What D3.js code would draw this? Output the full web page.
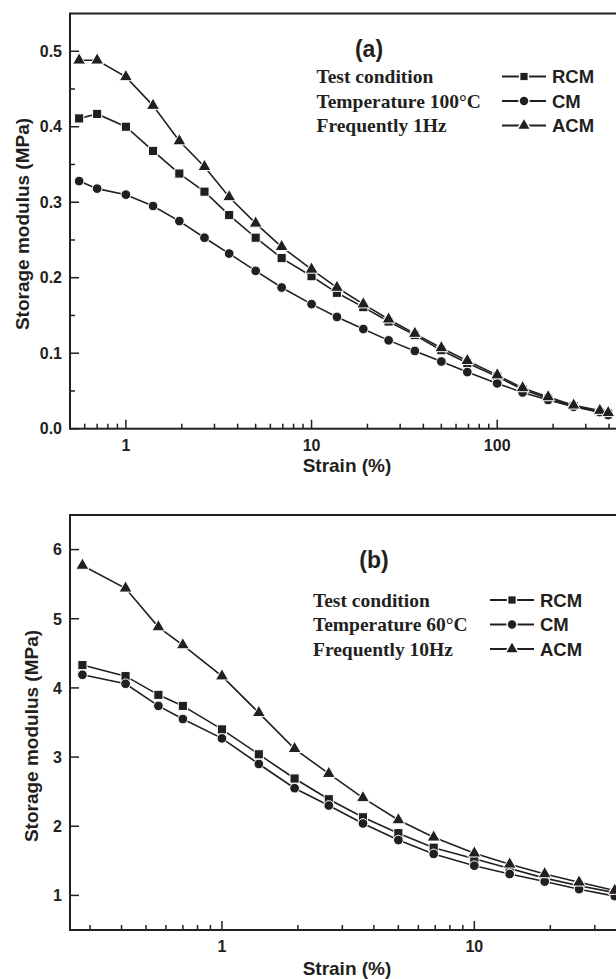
<!DOCTYPE html>
<meta charset="utf-8">
<head>
<script src="https://cdnjs.cloudflare.com/ajax/libs/d3/7.8.5/d3.min.js"></script>
<style>
body { margin:0; background:#fff; }
svg { display:block; }
.sans { font-family: "Liberation Sans", Arial, sans-serif; font-weight: bold; fill: #231f20; }
.serif { font-family: "Liberation Serif", "Times New Roman", serif; font-weight: bold; fill: #231f20; }
</style>
</head>
<body>
<div id="chart"></div>
<script>

// ---- panel (a): 100°C, 1Hz ----
var strainA = [0.56, 0.7, 1, 1.4, 1.94, 2.65, 3.6, 5, 6.9, 10, 13.7, 19, 26, 36, 50, 69, 100, 137, 188, 258, 357, 396];
var rcmA = [0.411, 0.417, 0.400, 0.368, 0.338, 0.314, 0.283, 0.253, 0.226, 0.202, 0.180, 0.161, 0.142, 0.124, 0.104, 0.087, 0.069, 0.052, 0.040, 0.030, 0.022, 0.020];
var cmA  = [0.328, 0.318, 0.310, 0.295, 0.275, 0.253, 0.232, 0.209, 0.187, 0.165, 0.148, 0.132, 0.117, 0.103, 0.089, 0.075, 0.060, 0.048, 0.038, 0.029, 0.022, 0.018];
var acmA = [0.488, 0.488, 0.466, 0.428, 0.381, 0.347, 0.307, 0.272, 0.241, 0.211, 0.187, 0.165, 0.145, 0.126, 0.107, 0.090, 0.071, 0.054, 0.042, 0.031, 0.024, 0.021];
var yTicksA = [0, 0.1, 0.2, 0.3, 0.4, 0.5];
var yLabelsA = ['0.0', '0.1', '0.2', '0.3', '0.4', '0.5'];
var xTicksA = [1, 10, 100];
var xLabelsA = ['1', '10', '100'];
var condA = ['Test condition', 'Temperature 100°C', 'Frequently 1Hz'];

// ---- panel (b): 60°C, 10Hz ----
var strainB = [0.28, 0.415, 0.56, 0.7, 1, 1.4, 1.94, 2.65, 3.62, 5, 6.9, 10, 13.8, 19, 26, 36];
var rcmB = [4.33, 4.17, 3.90, 3.74, 3.40, 3.04, 2.69, 2.39, 2.13, 1.90, 1.69, 1.53, 1.39, 1.25, 1.14, 1.04];
var cmB  = [4.19, 4.06, 3.74, 3.55, 3.27, 2.90, 2.55, 2.30, 2.04, 1.80, 1.60, 1.43, 1.31, 1.20, 1.09, 0.99];
var acmB = [5.77, 5.44, 4.88, 4.62, 4.17, 3.64, 3.12, 2.76, 2.41, 2.09, 1.84, 1.61, 1.45, 1.31, 1.19, 1.07];
var yTicksB = [1, 2, 3, 4, 5, 6];
var yLabelsB = ['1', '2', '3', '4', '5', '6'];
var xTicksB = [1, 10];
var xLabelsB = ['1', '10'];
var condB = ['Test condition', 'Temperature 60°C', 'Frequently 10Hz'];

var seriesNames = ['RCM', 'CM', 'ACM'];

var ink = '#231f20';
var svg = d3.select('#chart').append('svg')
            .attr('width', 616)
            .attr('height', 979);

var shapes = {
  RCM: d3.symbol().type(d3.symbolSquare).size(84),
  CM:  d3.symbol().type(d3.symbolCircle).size(74),
  ACM: d3.symbol().type(d3.symbolTriangle).size(74)
};
var legendShapes = {
  RCM: d3.symbol().type(d3.symbolSquare).size(52),
  CM:  d3.symbol().type(d3.symbolCircle).size(56),
  ACM: d3.symbol().type(d3.symbolTriangle).size(52)
};

function panel(p) {
  var g = svg.append('g');
  var x = p.x, y = p.y;
  var left = x.range()[0], right = x.range()[1];
  var bottom = y.range()[0], top = y.range()[1];

  // series (lines first, markers with white halo on top)
  p.series.forEach(function(s) {
    var pts = p.strain.map(function(v, i) { return [v, s.values[i]]; });
    g.append('path')
      .attr('d', d3.line().x(function(d){ return x(d[0]); }).y(function(d){ return y(d[1]); })(pts))
      .attr('fill', 'none')
      .attr('stroke', ink)
      .attr('stroke-width', 1.6);
  });
  p.series.forEach(function(s) {
    var pts = p.strain.map(function(v, i) { return [v, s.values[i]]; });
    g.selectAll(null).data(pts).enter().append('path')
      .attr('transform', function(d){ return 'translate(' + x(d[0]) + ',' + y(d[1]) + ')'; })
      .attr('d', shapes[s.name]())
      .attr('fill', ink)
      .attr('stroke', '#fff')
      .attr('stroke-width', 1);
  });

  // frame
  g.append('rect')
    .attr('x', left).attr('y', top)
    .attr('width', right - left).attr('height', bottom - top)
    .attr('fill', 'none').attr('stroke', ink).attr('stroke-width', 2);

  // x ticks (log), inward
  x.ticks().forEach(function(t) {
    var major = Math.abs(Math.log10(t) - Math.round(Math.log10(t))) < 1e-9;
    g.append('line')
      .attr('x1', x(t)).attr('x2', x(t))
      .attr('y1', bottom).attr('y2', bottom - (major ? 9 : 5))
      .attr('stroke', ink).attr('stroke-width', 1.5);
  });
  p.xTicks.forEach(function(t, i) {
    g.append('text').attr('class', 'sans')
      .attr('x', x(t)).attr('y', bottom + 22)
      .attr('text-anchor', 'middle')
      .style('font-size', '16px')
      .text(p.xLabels[i]);
  });

  // y ticks, inward
  var step = p.yTicks[1] - p.yTicks[0];
  p.yTicks.forEach(function(t, i) {
    g.append('line')
      .attr('x1', left).attr('x2', left + 9)
      .attr('y1', y(t)).attr('y2', y(t))
      .attr('stroke', ink).attr('stroke-width', 1.5);
    g.append('text').attr('class', 'sans')
      .attr('x', left - 8).attr('y', y(t))
      .attr('dy', '0.36em')
      .attr('text-anchor', 'end')
      .style('font-size', '16px')
      .text(p.yLabels[i]);
  });
  d3.range(y.domain()[0] + step / 2, y.domain()[1], step).forEach(function(t) {
    if (p.yTicks.some(function(m){ return Math.abs(m - t) < 1e-9; })) return;
    g.append('line')
      .attr('x1', left).attr('x2', left + 5)
      .attr('y1', y(t)).attr('y2', y(t))
      .attr('stroke', ink).attr('stroke-width', 1.5);
  });

  // axis titles
  g.append('text').attr('class', 'sans')
    .attr('x', 347).attr('y', p.xTitleY)
    .attr('text-anchor', 'middle')
    .style('font-size', '19px')
    .text('Strain (%)');
  g.append('text').attr('class', 'sans')
    .attr('transform', 'translate(' + p.yTitleX + ',' + p.yTitleY + ') rotate(-90)')
    .attr('text-anchor', 'middle')
    .style('font-size', '19px')
    .text('Storage modulus (MPa)');

  // panel letter
  g.append('text').attr('class', 'sans')
    .attr('x', p.letterX).attr('y', p.letterY)
    .attr('text-anchor', 'middle')
    .style('font-size', '23px')
    .text(p.letter);

  // conditions + legend
  p.cond.forEach(function(c, i) {
    var ly = p.legY + i * 24.5;
    g.append('text').attr('class', 'serif')
      .attr('x', p.condX).attr('y', ly)
      .style('font-size', '19.5px')
      .text(c);
    var name = seriesNames[i];
    var my = ly - 6.5;
    g.append('line')
      .attr('x1', p.symX - 22).attr('x2', p.symX + 22)
      .attr('y1', my).attr('y2', my)
      .attr('stroke', ink).attr('stroke-width', 2);
    g.append('path')
      .attr('transform', 'translate(' + p.symX + ',' + my + ')')
      .attr('d', legendShapes[name]())
      .attr('fill', ink)
      .attr('stroke', '#fff')
      .attr('stroke-width', 3)
      .attr('paint-order', 'stroke');
    g.append('text').attr('class', 'sans')
      .attr('x', p.symX + 28).attr('y', ly)
      .style('font-size', '18.5px')
      .text(name);
  });
}

panel({
  x: d3.scaleLog().domain([0.5, 500]).range([70, 627]),
  y: d3.scaleLinear().domain([0, 0.55]).range([428.7, 13.5]),
  strain: strainA,
  series: [{name: 'RCM', values: rcmA}, {name: 'CM', values: cmA}, {name: 'ACM', values: acmA}],
  yTicks: yTicksA, yLabels: yLabelsA,
  xTicks: xTicksA, xLabels: xLabelsA,
  cond: condA,
  xTitleY: 472, yTitleX: 29, yTitleY: 224,
  letter: '(a)', letterX: 369, letterY: 57,
  legY: 83, condX: 316.5, symX: 524
});

panel({
  x: d3.scaleLog().domain([0.25, 40]).range([70, 626.3]),
  y: d3.scaleLinear().domain([0.5, 6.5]).range([930, 515]),
  strain: strainB,
  series: [{name: 'RCM', values: rcmB}, {name: 'CM', values: cmB}, {name: 'ACM', values: acmB}],
  yTicks: yTicksB, yLabels: yLabelsB,
  xTicks: xTicksB, xLabels: xLabelsB,
  cond: condB,
  xTitleY: 975, yTitleX: 38, yTitleY: 736,
  letter: '(b)', letterX: 374, letterY: 568,
  legY: 606.5, condX: 313, symX: 512
});

</script>
</body>
